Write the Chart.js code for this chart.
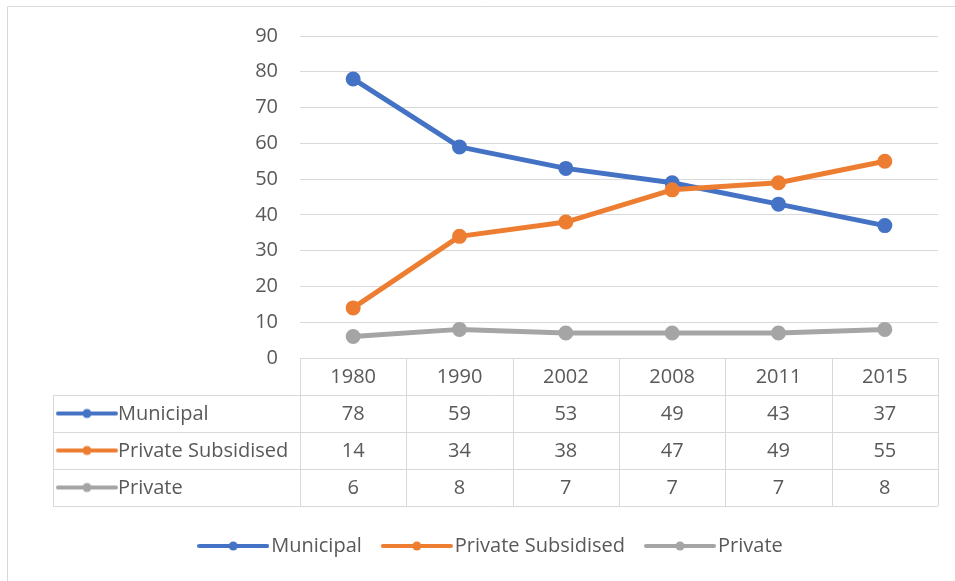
<!DOCTYPE html>
<html><head><meta charset="utf-8">
<script src="https://cdn.jsdelivr.net/npm/chart.js@4/dist/chart.umd.min.js"></script>
<style>html,body{margin:0;padding:0;background:#fff;}#wrap{position:relative;width:955px;height:581px;}canvas{display:block}</style>
</head><body><div id="wrap"><canvas id="c" width="955" height="581"></canvas></div>
<script>
const categories = ['1980', '1990', '2002', '2008', '2011', '2015'];
const seriesNames = ['Municipal', 'Private Subsidised', 'Private'];
const municipal = [78, 59, 53, 49, 43, 37];
const privateSubsidised = [14, 34, 38, 47, 49, 55];
const privateOnly = [6, 8, 7, 7, 7, 8];
const seriesColors = ['#4472C4', '#ED7D31', '#A5A5A5'];
const yMin = 0, yMax = 90, yStep = 10;

const FONT = "'Open Sans', 'Noto Sans', sans-serif";
const FS = 20;
const TXT = '#595959';
const GRID = '#D9D9D9';
const SYM_W = 56;

function makeSymbol(color, w) {
  const c = document.createElement('canvas');
  c.width = w; c.height = 12;
  const g = c.getContext('2d');
  g.strokeStyle = color; g.lineWidth = 4; g.lineCap = 'round';
  g.beginPath(); g.moveTo(2, 6); g.lineTo(w - 2, 6); g.stroke();
  g.fillStyle = color; g.beginPath(); g.arc(w / 2, 6, 4.5, 0, Math.PI * 2); g.fill();
  return c;
}
const legendSymbols = seriesColors.map(c => makeSymbol(c, SYM_W + 16));
const tableSymbols = seriesColors.map(c => makeSymbol(c, 62));
const seriesData = [municipal, privateSubsidised, privateOnly];

const tablePlugin = {
  id: 'dataTable',
  afterLayout(chart) {
    chart.legend.left += 25; chart.legend.right += 25;
  },
  beforeDraw(chart) {
    const ctx = chart.ctx;
    ctx.save();
    ctx.strokeStyle = GRID; ctx.lineWidth = 1;
    ctx.beginPath();
    ctx.moveTo(7.5, 581); ctx.lineTo(7.5, 6.5); ctx.lineTo(955, 6.5);
    ctx.stroke();
    ctx.restore();
  },
  afterDraw(chart) {
    const ctx = chart.ctx;
    const xs = chart.scales.x;
    const area = chart.chartArea;
    const top = area.bottom;
    const rowH = 37;
    const nRows = seriesNames.length + 1;
    const tableLeft = 53;
    const colW = (area.right - area.left) / categories.length;
    ctx.save();
    ctx.strokeStyle = GRID; ctx.lineWidth = 1;
    ctx.beginPath();
    for (let k = 1; k <= nRows; k++) {
      const y = Math.round(top + rowH * k) + 0.5;
      ctx.moveTo(tableLeft, y); ctx.lineTo(area.right, y);
    }
    for (let i = 0; i <= categories.length; i++) {
      const x = Math.round(area.left + colW * i) + 0.5;
      ctx.moveTo(x, top); ctx.lineTo(x, top + rowH * nRows);
    }
    ctx.moveTo(tableLeft + 0.5, top + rowH); ctx.lineTo(tableLeft + 0.5, top + rowH * nRows);
    ctx.stroke();
    ctx.font = FS + 'px ' + FONT;
    ctx.fillStyle = TXT;
    ctx.textAlign = 'center'; ctx.textBaseline = 'middle';
    categories.forEach((c, i) => ctx.fillText(c, xs.getPixelForValue(i), top + rowH / 2 + 1));
    seriesNames.forEach((name, r) => {
      const cy = top + rowH * (r + 1) + rowH / 2 + 1;
      ctx.textAlign = 'center';
      seriesData[r].forEach((v, i) => ctx.fillText(String(v), xs.getPixelForValue(i), cy));
      ctx.drawImage(tableSymbols[r], tableLeft + 3, cy - 7);
      ctx.textAlign = 'left';
      ctx.fillText(name, tableLeft + 65, cy);
    });
    ctx.restore();
  }
};

const chart = new Chart(document.getElementById('c'), {
  type: 'line',
  data: {
    labels: categories,
    datasets: seriesNames.map((name, i) => ({
      label: name,
      data: seriesData[i],
      borderColor: seriesColors[i],
      backgroundColor: seriesColors[i],
      pointBackgroundColor: seriesColors[i],
      pointBorderColor: seriesColors[i],
      borderWidth: 5,
      pointRadius: 5,
      pointHoverRadius: 5,
      tension: 0,
      borderCapStyle: 'round',
      borderJoinStyle: 'round',
      order: seriesNames.length - i
    }))
  },
  options: {
    responsive: false,
    animation: false,
    layout: { padding: { top: 36, left: 0, right: 17, bottom: 15 } },
    plugins: {
      tooltip: { enabled: false },
      legend: {
        position: 'bottom',
        labels: {
          color: TXT,
          font: { family: FONT, size: FS },
          usePointStyle: true,
          pointStyleWidth: SYM_W,
          padding: 27,
          generateLabels: () => seriesNames.map((name, i) => ({
            text: name, fillStyle: seriesColors[i], strokeStyle: seriesColors[i],
            lineWidth: 0, pointStyle: legendSymbols[i], datasetIndex: i, fontColor: TXT, hidden: false
          }))
        }
      }
    },
    scales: {
      x: {
        type: 'category', offset: true,
        grid: { display: false, drawTicks: false },
        border: { display: false },
        ticks: { display: false },
        afterFit: s => { s.height = 151; }
      },
      y: {
        min: yMin, max: yMax,
        ticks: { stepSize: yStep, color: TXT, font: { family: FONT, size: FS }, padding: 22 },
        grid: { color: GRID, drawTicks: false },
        border: { display: false },
        afterFit: s => { s.width = 300; }
      }
    }
  },
  plugins: [tablePlugin]
});
</script></body></html>
